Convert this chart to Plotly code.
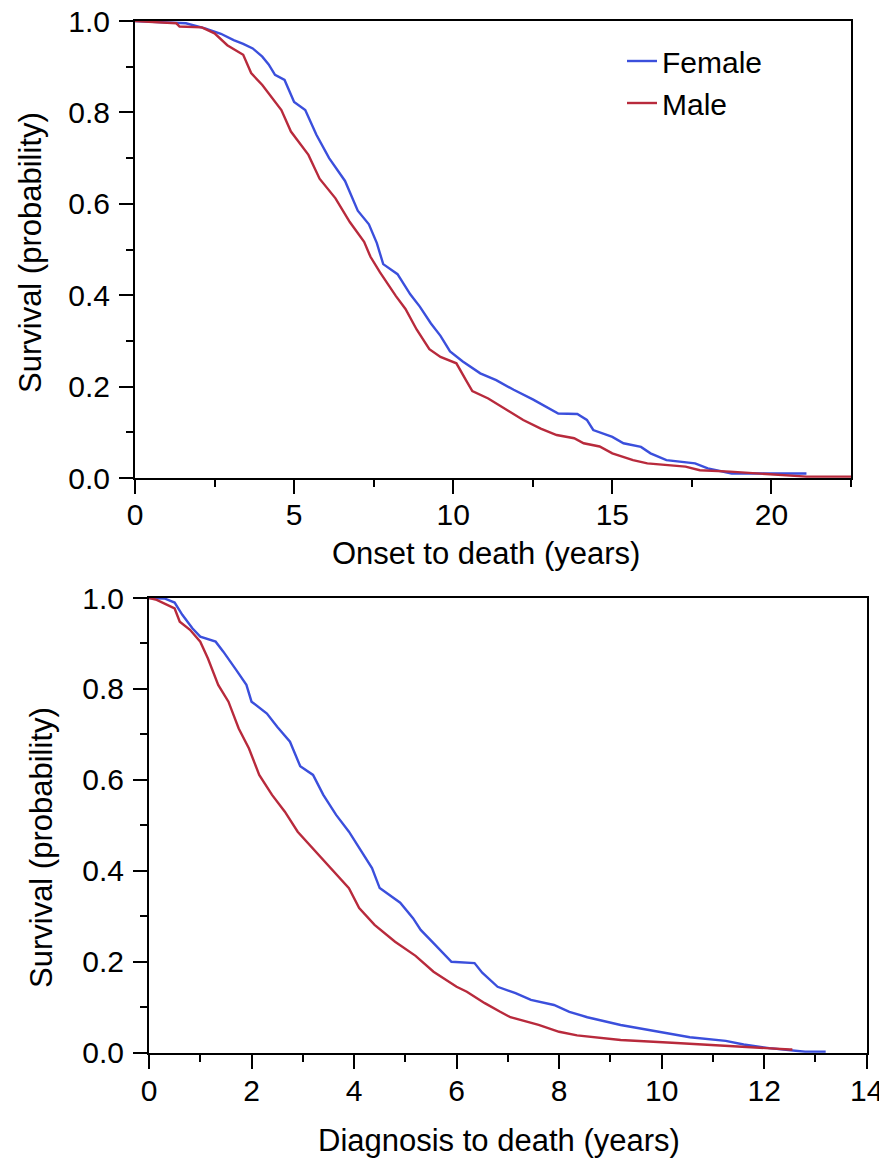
import plotly.graph_objects as go

# ---- Data (Kaplan-Meier curves) ----
onset_female_t = [0, 1.6, 2.2, 2.7, 3.1, 3.4, 3.7, 4.0, 4.2, 4.4, 4.7, 5.0, 5.35, 5.7, 6.1, 6.6, 7.0, 7.35, 7.6, 7.8,
                  8.25, 8.65, 8.95, 9.3, 9.6, 9.9, 10.3, 10.85, 11.35, 11.9, 12.5, 13.05, 13.3, 13.9, 14.2, 14.4,
                  15.0, 15.35, 15.9, 16.2, 16.7, 17.6, 18.0, 18.75, 21.1]
onset_female_s = [1.0, 0.995, 0.984, 0.972, 0.958, 0.95, 0.94, 0.922, 0.905, 0.882, 0.871, 0.823, 0.805, 0.751, 0.70,
                  0.65, 0.585, 0.555, 0.514, 0.468, 0.446, 0.402, 0.375, 0.338, 0.311, 0.277, 0.255, 0.229, 0.214,
                  0.193, 0.172, 0.150, 0.141, 0.140, 0.127, 0.105, 0.090, 0.076, 0.068, 0.054, 0.039, 0.032, 0.021,
                  0.010, 0.010]

onset_male_t = [0, 1.3, 1.4, 2.1, 2.5, 2.9, 3.4, 3.65, 4.0, 4.6, 4.9, 5.45, 5.8, 6.3, 6.75, 7.2, 7.4, 7.7, 8.2, 8.5,
                8.85, 9.25, 9.6, 10.1, 10.4, 10.6, 11.1, 11.6, 12.2, 12.75, 13.25, 13.8, 14.1, 14.6, 15.0, 15.65,
                16.1, 17.3, 17.75, 18.7, 19.9, 21.1, 22.5]
onset_male_s = [1.0, 0.995, 0.988, 0.986, 0.973, 0.947, 0.926, 0.886, 0.86, 0.805, 0.758, 0.707, 0.655, 0.612, 0.56,
                0.517, 0.484, 0.45, 0.398, 0.37, 0.325, 0.282, 0.265, 0.251, 0.214, 0.19, 0.174, 0.153, 0.127, 0.108,
                0.094, 0.087, 0.076, 0.069, 0.054, 0.039, 0.032, 0.025, 0.017, 0.014, 0.009, 0.003, 0.003]

diag_female_t = [0, 0.3, 0.5, 0.65, 0.85, 1.0, 1.3, 1.45, 1.7, 1.9, 2.0, 2.3, 2.5, 2.75, 2.95, 3.2, 3.4, 3.65, 3.9,
                 4.15, 4.35, 4.5, 4.9, 5.15, 5.3, 5.55, 5.9, 6.35, 6.5, 6.8, 7.15, 7.45, 7.9, 8.2, 8.55, 9.2, 9.95,
                 10.55, 11.25, 11.6, 12.1, 12.8, 13.2]
diag_female_s = [1.0, 0.999, 0.99, 0.963, 0.933, 0.915, 0.904, 0.882, 0.842, 0.809, 0.772, 0.746, 0.717, 0.684, 0.63,
                 0.611, 0.567, 0.523, 0.486, 0.442, 0.406, 0.362, 0.33, 0.296, 0.27, 0.241, 0.2, 0.197, 0.176, 0.145,
                 0.131, 0.116, 0.105, 0.09, 0.078, 0.061, 0.046, 0.034, 0.026, 0.018, 0.01, 0.002, 0.002]

diag_male_t = [0, 0.15, 0.5, 0.6, 0.8, 1.0, 1.15, 1.35, 1.55, 1.75, 1.95, 2.15, 2.4, 2.65, 2.9, 3.25, 3.6, 3.9, 4.1,
               4.4, 4.8, 5.2, 5.55, 6.0, 6.2, 6.55, 6.85, 7.05, 7.6, 8.0, 8.35, 9.2, 10.2, 11.45, 12.5, 12.55]
diag_male_s = [1.0, 0.996, 0.977, 0.948, 0.93, 0.904, 0.867, 0.809, 0.772, 0.713, 0.669, 0.611, 0.567, 0.53, 0.486,
               0.442, 0.398, 0.362, 0.318, 0.281, 0.244, 0.213, 0.178, 0.145, 0.134, 0.109, 0.09, 0.078, 0.061,
               0.046, 0.038, 0.028, 0.022, 0.013, 0.007, 0.007]

series_names = ["Female", "Male"]
x_title_top = "Onset to death (years)"
x_title_bottom = "Diagnosis to death (years)"
y_title = "Survival (probability)"

# ---- Styling ----
W, H = 887, 1163
OFF = 8  # page body margin
BLUE = "#3b4fdc"
RED = "#b82a3c"
FONT = "Liberation Sans, Arial, sans-serif"
FS_TICK = 30
FS_TITLE = 31
FS_LEG = 30
LW = 2.4


def px_x(p):
    return (p - OFF) / W


def px_y(p):
    return 1 - (p - OFF) / H


fig = go.Figure()
fig.add_trace(go.Scatter(x=onset_female_t, y=onset_female_s, mode="lines", name=series_names[0],
                         line=dict(color=BLUE, width=LW), xaxis="x", yaxis="y"))
fig.add_trace(go.Scatter(x=onset_male_t, y=onset_male_s, mode="lines", name=series_names[1],
                         line=dict(color=RED, width=LW), xaxis="x", yaxis="y"))
fig.add_trace(go.Scatter(x=diag_female_t, y=diag_female_s, mode="lines", name=series_names[0], showlegend=False,
                         line=dict(color=BLUE, width=LW), xaxis="x2", yaxis="y2"))
fig.add_trace(go.Scatter(x=diag_male_t, y=diag_male_s, mode="lines", name=series_names[1], showlegend=False,
                         line=dict(color=RED, width=LW), xaxis="x2", yaxis="y2"))

axis_common = dict(showline=True, linecolor="black", linewidth=2, mirror=True, ticks="outside",
                   tickwidth=2, tickcolor="black", ticklen=14, showgrid=False, zeroline=False,
                   automargin=False, ticklabeloverflow="allow",
                   tickfont=dict(family=FONT, size=FS_TICK, color="black"), fixedrange=True)
minor_common = dict(ticks="outside", ticklen=7, tickwidth=2, tickcolor="black")

fig.update_layout(
    template="none",
    width=W, height=H,
    margin=dict(l=0, r=0, t=0, b=0, pad=0),
    paper_bgcolor="white", plot_bgcolor="white",
    font=dict(family=FONT, size=FS_TICK, color="black"),
    xaxis=dict(domain=[px_x(135), px_x(851)], range=[0, 22.5], dtick=5, anchor="y", ticklabelstandoff=-5,
               minor=dict(dtick=2.5, **minor_common), **axis_common),
    yaxis=dict(domain=[px_y(478), px_y(21)], range=[0, 1.0], dtick=0.2, tickformat=".1f", anchor="x",
               ticklabelstandoff=3, minor=dict(dtick=0.1, **minor_common), **axis_common),
    xaxis2=dict(domain=[px_x(149), px_x(866.7)], range=[0, 14], dtick=2, anchor="y2", ticklabelstandoff=-4,
                minor=dict(dtick=1, **minor_common), **axis_common),
    yaxis2=dict(domain=[px_y(1052.7), px_y(598)], range=[0, 1.0], dtick=0.2, tickformat=".1f", anchor="x2",
                ticklabelstandoff=3, minor=dict(dtick=0.1, **minor_common), **axis_common),
    showlegend=True,
    legend=dict(x=px_x(622), y=px_y(35), xanchor="left", yanchor="top", bgcolor="rgba(0,0,0,0)",
                borderwidth=0, font=dict(family=FONT, size=FS_LEG, color="black"), tracegroupgap=0),
    annotations=[
        dict(text=x_title_top, x=px_x(486), y=px_y(553), xref="paper", yref="paper", showarrow=False,
             xanchor="center", yanchor="middle", font=dict(family=FONT, size=FS_TITLE, color="black")),
        dict(text=x_title_bottom, x=px_x(499), y=px_y(1140), xref="paper", yref="paper", showarrow=False,
             xanchor="center", yanchor="middle", font=dict(family=FONT, size=FS_TITLE, color="black")),
        dict(text=y_title, x=px_x(30), y=px_y(253), xref="paper", yref="paper", showarrow=False, textangle=-90,
             xanchor="center", yanchor="middle", font=dict(family=FONT, size=FS_TITLE, color="black")),
        dict(text=y_title, x=px_x(41), y=px_y(848), xref="paper", yref="paper", showarrow=False, textangle=-90,
             xanchor="center", yanchor="middle", font=dict(family=FONT, size=FS_TITLE, color="black")),
    ],
)

fig.write_html("out.html")
